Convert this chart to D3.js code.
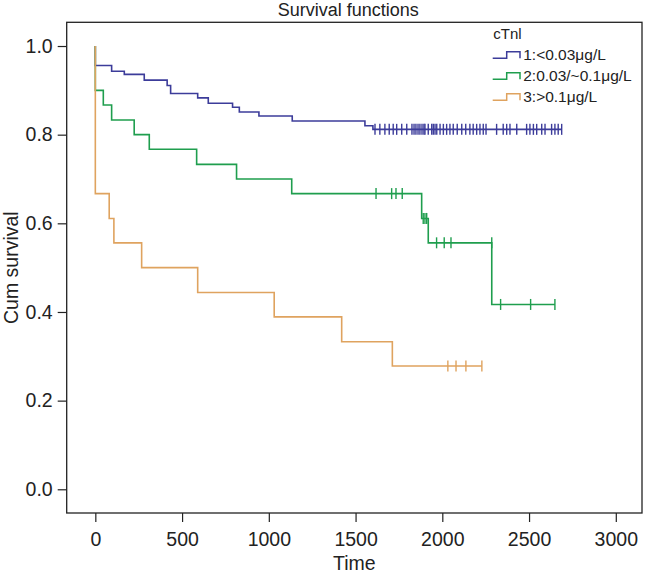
<!DOCTYPE html>
<html>
<head>
<meta charset="utf-8">
<script src="https://cdn.jsdelivr.net/npm/d3@7"></script>
<style>
  html, body { margin: 0; padding: 0; background: #fff; }
  svg { display: block; font-family: "Liberation Sans", Arial, sans-serif; }
</style>
</head>
<body>
<svg id="chart" width="645" height="576"></svg>
<script>
// ---------------- data ----------------
const groupNames = ["1:<0.03μg/L", "2:0.03/~0.1μg/L", "3:>0.1μg/L"];
const groupColors = ["#3c3c9a", "#1f9e4e", "#dfa35f"];

// event steps: [time, survival after event]
const steps1 = [[0,0.956],[94,0.943],[167,0.936],[282,0.923],[414,0.911],[434,0.893],[590,0.883],[651,0.871],[791,0.862],[830,0.851],[943,0.842],[1135,0.831],[1554,0.820],[1600,0.812]];
const steps2 = [[0,0.900],[46,0.867],[94,0.833],[224,0.800],[311,0.767],[584,0.733],[814,0.700],[1132,0.667],[1881,0.611],[1919,0.556],[2285,0.417]];
const steps3 = [[0,0.667],[80,0.611],[107,0.556],[267,0.500],[590,0.444],[1031,0.389],[1420,0.333],[1712,0.278]];

// censored times
const censor1 = [1612,1640,1669,1694,1717,1737,1766,1795,1825,1837,1848,1860,1871,1883,1894,1900,1919,1939,1948,1958,1968,1987,2006,2025,2044,2063,2086,2112,2135,2159,2178,2198,2217,2236,2252,2313,2351,2371,2390,2429,2486,2505,2525,2544,2573,2592,2630,2649,2668,2688];
const censor2 = [1618,1708,1733,1769,1890,1900,1910,1967,2011,2050,2285,2336,2509,2649];
const censor3 = [2032,2079,2136,2228];

const xTicks = [0, 500, 1000, 1500, 2000, 2500, 3000];
const yTicks = [0.0, 0.2, 0.4, 0.6, 0.8, 1.0];

const titleText = "Survival functions";
const xLabel = "Time";
const yLabel = "Cum survival";
const legendTitle = "cTnl";

// ---------------- layout ----------------
const frame = { left: 66.7, right: 642, top: 22.3, bottom: 513 };
const svg = d3.select("#chart");

const x = d3.scaleLinear().domain([-165, 3151]).range([frame.left, frame.right]);
const y = d3.scaleLinear().domain([-0.0535, 1.0535]).range([frame.bottom, frame.top]);

const textColor = "#222";

// frame
svg.append("rect")
  .attr("x", frame.left).attr("y", frame.top)
  .attr("width", frame.right - frame.left).attr("height", frame.bottom - frame.top)
  .attr("fill", "none").attr("stroke", "#222").attr("stroke-width", 1.3);

// axes
const xAxis = d3.axisBottom(x).tickValues(xTicks).tickFormat(d3.format("d")).tickSize(9).tickPadding(10);
const gx = svg.append("g").attr("transform", `translate(0,${frame.bottom})`).call(xAxis);
gx.select(".domain").remove();
gx.selectAll("line").attr("stroke", "#222").attr("stroke-width", 1.2);
gx.selectAll("text").attr("font-size", 19.5).attr("fill", textColor).attr("font-family", "Liberation Sans, Arial, sans-serif");

const yAxis = d3.axisLeft(y).tickValues(yTicks).tickFormat(d3.format(".1f")).tickSize(9).tickPadding(5);
const gy = svg.append("g").attr("transform", `translate(${frame.left},0)`).call(yAxis);
gy.select(".domain").remove();
gy.selectAll("line").attr("stroke", "#222").attr("stroke-width", 1.2);
gy.selectAll("text").attr("font-size", 19.5).attr("fill", textColor).attr("font-family", "Liberation Sans, Arial, sans-serif");

// titles
svg.append("text").attr("x", (frame.left + frame.right) / 2 - 6).attr("y", 15.5)
  .attr("text-anchor", "middle").attr("font-size", 18).attr("fill", textColor).text(titleText);
svg.append("text").attr("x", (frame.left + frame.right) / 2).attr("y", 570)
  .attr("text-anchor", "middle").attr("font-size", 19.5).attr("fill", textColor).text(xLabel);
svg.append("text")
  .attr("transform", `translate(18,${(frame.top + frame.bottom) / 2}) rotate(-90)`)
  .attr("text-anchor", "middle").attr("font-size", 19.5).attr("fill", textColor).text(yLabel);

// curves
const groups = [
  { steps: steps1, censor: censor1 },
  { steps: steps2, censor: censor2 },
  { steps: steps3, censor: censor3 }
];

const line = d3.line().x(d => x(d[0])).y(d => y(d[1])).curve(d3.curveStepAfter);

function survBefore(steps, t) {
  let v = 1;
  for (const s of steps) { if (s[0] < t) v = s[1]; }
  return v;
}

groups.forEach((g, i) => {
  const endT = d3.max([...g.censor, g.steps[g.steps.length - 1][0]]);
  const pts = [[0, 1], ...g.steps];
  pts.push([endT, g.steps[g.steps.length - 1][1]]);
  svg.append("path").attr("d", line(pts))
    .attr("fill", "none").attr("stroke", groupColors[i]).attr("stroke-width", 1.6);
  svg.append("g").selectAll("line").data(g.censor).join("line")
    .attr("x1", d => x(d)).attr("x2", d => x(d))
    .attr("y1", d => y(survBefore(g.steps, d)) - 5.5)
    .attr("y2", d => y(survBefore(g.steps, d)) + 5.5)
    .attr("stroke", groupColors[i]).attr("stroke-width", 1.4);
});

// legend
const lg = svg.append("g").attr("transform", "translate(492.7,0)");
lg.append("text").attr("x", 0.6).attr("y", 39).attr("font-size", 15).attr("fill", textColor).text(legendTitle);
groupNames.forEach((name, i) => {
  const base = 58.3 + i * 21;
  const sw = d3.path();
  sw.moveTo(0, base); sw.lineTo(14, base); sw.lineTo(14, base - 6.6); sw.lineTo(27.3, base - 6.6); sw.lineTo(27.3, base);
  lg.append("path").attr("d", sw.toString()).attr("fill", "none")
    .attr("stroke", groupColors[i]).attr("stroke-width", 1.5);
  lg.append("text").attr("x", 30.5).attr("y", base + 1.7).attr("font-size", 15.5)
    .attr("fill", textColor).text(name);
});
</script>
</body>
</html>
